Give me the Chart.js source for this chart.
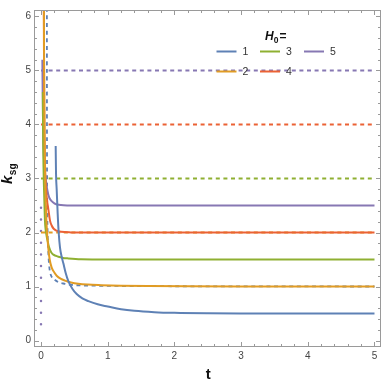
<!DOCTYPE html>
<html>
<head>
<meta charset="utf-8">
<script src="https://cdn.jsdelivr.net/npm/chart.js@4/dist/chart.umd.min.js"></script>
<style>
html,body{margin:0;padding:0;background:#fff;overflow:hidden;}
canvas{display:block;}
</style>
</head>
<body>
<canvas id="c" width="382" height="382"></canvas>
<script>
// ---- data ----
const xTicks = [0, 1, 2, 3, 4, 5];
const yTicks = [0, 1, 2, 3, 4, 5, 6];
const seriesNames = ['1', '2', '3', '4', '5'];   // H0 values

const t1 = [0.22,0.225,0.235,0.25,0.265,0.285,0.31,0.335,0.37,0.41,0.47,0.535,0.62,0.71,0.85,1.0,1.2,1.4,1.7,2.0,2.5,3.0,4.0,5.0];
const k1 = [3.6,3.1,2.8,2.35,2.0,1.72,1.55,1.43,1.25,1.1,0.96,0.86,0.78,0.73,0.67,0.63,0.58,0.55,0.525,0.512,0.503,0.5,0.5,0.5];

const t2 = [0.043,0.046,0.05,0.055,0.062,0.07,0.08,0.09,0.1,0.11,0.13,0.16,0.2,0.235,0.3,0.36,0.45,0.56,0.7,0.9,1.2,1.6,2.2,3.0,5.0];
const k2 = [6.3,5.2,4.3,3.6,3.0,2.6,2.25,2.0,1.85,1.7,1.5,1.35,1.26,1.2,1.14,1.11,1.075,1.05,1.035,1.025,1.015,1.008,1.003,1.0,1.0];

const t3 = [0.028,0.03,0.033,0.037,0.043,0.05,0.06,0.07,0.085,0.1,0.12,0.135,0.16,0.185,0.22,0.26,0.33,0.41,0.6,1.0,5.0];
const k3 = [4.6,4.0,3.6,3.25,2.9,2.6,2.2,2.05,1.93,1.84,1.73,1.68,1.62,1.59,1.57,1.55,1.53,1.52,1.505,1.5,1.5];

const t4 = [0.042,0.045,0.048,0.052,0.058,0.066,0.075,0.09,0.11,0.135,0.16,0.19,0.23,0.3,0.45,0.7,5.0];
const k4 = [6.3,5.2,4.4,3.8,3.35,3.0,2.8,2.6,2.43,2.22,2.13,2.07,2.035,2.012,2.002,2.0,2.0];

const t5 = [0.02,0.025,0.03,0.035,0.045,0.06,0.075,0.09,0.11,0.13,0.16,0.2,0.24,0.3,0.4,0.6,5.0];
const k5 = [5.2,4.6,4.1,3.7,3.35,3.1,2.95,2.82,2.7,2.63,2.58,2.54,2.52,2.508,2.502,2.5,2.5];

// dashed reference curve (blue)
const t1ref = [0.088,0.089,0.09,0.092,0.095,0.1,0.105,0.11,0.12,0.135,0.16,0.21,0.26,0.36,0.46,0.6,0.8,1.2,2.0,5.0];
const k1ref = [6.3,4.5,3.5,2.8,2.3,1.95,1.75,1.62,1.42,1.27,1.18,1.12,1.08,1.05,1.03,1.02,1.015,1.01,1.005,1.0];

// dashed horizontal levels k = H0 (orange, green, red, purple)
const levelT = [0, 5];
const level2 = [2, 2];
const level3 = [3, 3];
const level4 = [4, 4];
const level5 = [5, 5];

// dotted purple segment at t = 0
const tDot = [0, 0];
const kDot = [0.3, 2.65];

// ---- styles ----
const C = ['#5E81B5', '#E19C24', '#8FB032', '#EB6235', '#8778B3'];
const pts = (ts, ks) => ts.map((t, i) => ({x: t, y: ks[i]}));
const solid = (ts, ks, c) => ({data: pts(ts, ks), borderColor: c, borderWidth: 2, pointRadius: 0,
  cubicInterpolationMode: 'monotone', fill: false, order: 0});
const dashed = (ts, ks, c) => ({data: pts(ts, ks), borderColor: c, borderWidth: 1.8, pointRadius: 0,
  borderDash: [4, 3.6], cubicInterpolationMode: 'monotone', fill: false, order: 1});

const datasets = [
  Object.assign(solid(t1, k1, C[0]), {label: seriesNames[0]}),
  Object.assign(solid(t2, k2, C[1]), {label: seriesNames[1]}),
  Object.assign(solid(t3, k3, C[2]), {label: seriesNames[2]}),
  Object.assign(solid(t4, k4, C[3]), {label: seriesNames[3]}),
  Object.assign(solid(t5, k5, C[4]), {label: seriesNames[4]}),
  dashed(t1ref, k1ref, C[0]),
  dashed(levelT, level2, C[1]),
  dashed(levelT, level3, C[2]),
  dashed(levelT, level4, C[3]),
  dashed(levelT, level5, C[4]),
  {data: pts(tDot, kDot), borderColor: C[4], borderWidth: 2.5, pointRadius: 0,
   borderDash: [0, 11.65], borderCapStyle: 'round', fill: false, order: 1}
];

const FONT = "'Liberation Sans', Arial, sans-serif";

const framePlugin = {
  id: 'frame',
  afterDraw(chart) {
    const ctx = chart.ctx, a = chart.chartArea;
    const xs = chart.scales.x, ys = chart.scales.y;
    ctx.save();
    // frame
    ctx.strokeStyle = '#9a9a9a';
    ctx.lineWidth = 1;
    const L = Math.round(a.left) - 0.5, R = Math.round(a.right) - 0.5;
    const T = Math.round(a.top) + 0.5, B = Math.round(a.bottom) - 0.5;
    ctx.strokeRect(L, T, R - L, B - T);
    // ticks (inward), major + minor
    ctx.beginPath();
    for (let v = 0; v <= 5.0001; v += 0.2) {
      const major = Math.abs(v - Math.round(v)) < 1e-6;
      const len = major ? 4.5 : 2.5;
      const px = Math.round(xs.getPixelForValue(v)) + 0.5;
      ctx.moveTo(px, B); ctx.lineTo(px, B - len);
      ctx.moveTo(px, T); ctx.lineTo(px, T + len);
    }
    for (let v = 0; v <= 6.0001; v += 0.2) {
      const major = Math.abs(v - Math.round(v)) < 1e-6;
      const len = major ? 4.5 : 2.5;
      const py = Math.round(ys.getPixelForValue(v)) + 0.5;
      ctx.moveTo(L, py); ctx.lineTo(L + len, py);
      ctx.moveTo(R, py); ctx.lineTo(R - len, py);
    }
    ctx.stroke();

    // axis titles
    ctx.fillStyle = '#111';
    ctx.textAlign = 'center';
    ctx.textBaseline = 'alphabetic';
    ctx.font = 'bold 15px ' + FONT;
    ctx.fillText('t', (a.left + a.right) / 2 + 0.5, 379);

    ctx.save();
    ctx.translate(12, 184);
    ctx.rotate(-Math.PI / 2);
    ctx.textAlign = 'left';
    ctx.font = 'italic bold 15px ' + FONT;
    ctx.fillText('k', 0, 0);
    const kw = ctx.measureText('k').width;
    ctx.font = 'bold 10px ' + FONT;
    ctx.fillText('sg', kw + 0.5, 3.5);
    ctx.restore();

    // legend title H0=
    ctx.textAlign = 'left';
    ctx.font = 'italic bold 12px ' + FONT;
    let x = 265;
    ctx.fillText('H', x, 39.5);
    x += ctx.measureText('H').width;
    ctx.font = 'bold 8.5px ' + FONT;
    ctx.fillText('0', x, 42.5);
    x += ctx.measureText('0').width + 1;
    ctx.font = 'bold 12px ' + FONT;
    ctx.fillText('=', x, 39.5);

    // legend items, filled column-wise (1,2 | 3,4 | 5)
    const colX = [216.5, 260, 304];
    const rowY = [51.5, 71.5];
    ctx.font = '10.5px ' + FONT;
    ctx.textBaseline = 'middle';
    chart.data.datasets.forEach((ds, i) => {
      if (!ds.label) return;
      const cx = colX[Math.floor(i / 2)], cy = rowY[i % 2];
      ctx.strokeStyle = ds.borderColor;
      ctx.lineWidth = 2;
      ctx.beginPath(); ctx.moveTo(cx, cy); ctx.lineTo(cx + 20, cy); ctx.stroke();
      ctx.fillStyle = '#333';
      ctx.fillText(ds.label, cx + 26, cy + 0.5);
    });
    ctx.restore();
  }
};

new Chart(document.getElementById('c'), {
  type: 'line',
  data: {datasets},
  options: {
    responsive: false,
    animation: false,
    devicePixelRatio: 1,
    layout: {padding: {top: 0, right: 1.5, bottom: 0, left: 0}},
    plugins: {legend: {display: false}, tooltip: {enabled: false}},
    scales: {
      x: {
        type: 'linear', min: -0.09, max: 5.09,
        grid: {display: false, drawTicks: false}, border: {display: false},
        ticks: {color: '#444', font: {family: FONT, size: 10}, padding: 3, includeBounds: false,
                autoSkip: false, maxRotation: 0},
        afterBuildTicks: s => { s.ticks = xTicks.map(v => ({value: v})); },
        afterFit: s => { s.height = 35; }
      },
      y: {
        type: 'linear', min: -0.12, max: 6.12,
        grid: {display: false, drawTicks: false}, border: {display: false},
        ticks: {color: '#444', font: {family: FONT, size: 10}, padding: 4, includeBounds: false,
                autoSkip: false},
        afterBuildTicks: s => { s.ticks = yTicks.map(v => ({value: v})); },
        afterFit: s => { s.width = 35; }
      }
    }
  },
  plugins: [framePlugin]
});
</script>
</body>
</html>
